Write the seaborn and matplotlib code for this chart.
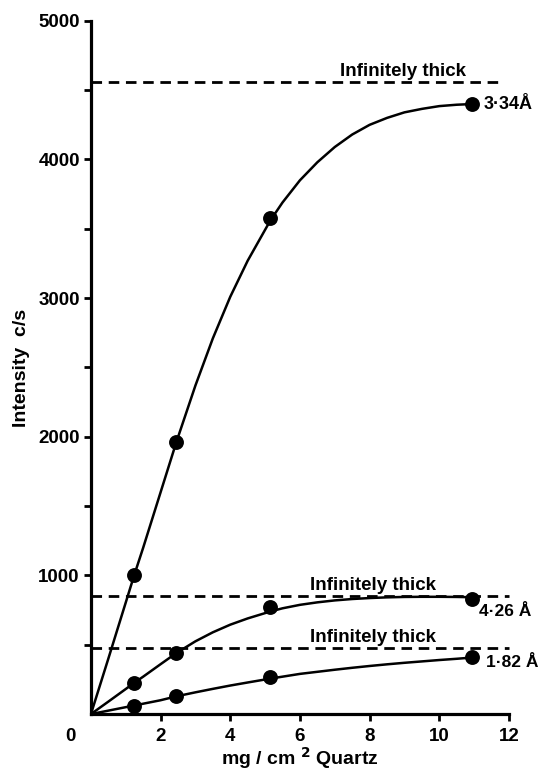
import matplotlib
matplotlib.use("Agg")
import matplotlib.pyplot as plt
import matplotlib.transforms as mtransforms
import seaborn as sns
import pandas as pd

# ---- data ----
point_x = [1.24, 2.45, 5.15, 10.95]
pts_334 = [1000, 1960, 3580, 4400]
pts_426 = [225, 440, 775, 830]
pts_182 = [60, 130, 265, 410]

curve_x = [0, 0.5, 1.0, 1.24, 1.5, 2.0, 2.45, 3.0, 3.5, 4.0, 4.5, 5.15, 5.5, 6.0,
           6.5, 7.0, 7.5, 8.0, 8.5, 9.0, 9.5, 10.0, 10.5, 10.95]
curve_334 = [0, 400, 805, 1000, 1200, 1600, 1960, 2370, 2710, 3010, 3270, 3560, 3690,
             3850, 3980, 4090, 4180, 4250, 4300, 4340, 4365, 4385, 4395, 4400]
curve_426 = [0, 90, 181, 225, 270, 360, 440, 525, 590, 645, 690, 740, 763, 788, 806,
             820, 830, 837, 842, 845, 846, 846, 845, 843]
curve_182 = [0, 25, 50, 62, 75, 100, 128, 157, 182, 206, 228, 256, 270, 290, 305, 320,
             334, 347, 359, 370, 380, 390, 399, 408]

inf_thick = [4560, 850, 475]
inf_end = [11.7, 12.0, 12.0]
inf_label_x = [8.95, 8.1, 8.1]
series_labels = ["3\u00b734\u00c5", "4\u00b726 \u00c5", "1\u00b782 \u00c5"]
x_ticks = [2, 4, 6, 8, 10, 12]
y_major = [1000, 2000, 3000, 4000, 5000]
y_minor = [500, 1500, 2500, 3500, 4500]

sns.set_theme(style="ticks")
plt.rcParams["font.family"] = ["Liberation Sans", "DejaVu Sans"]
plt.rcParams["font.weight"] = "bold"
plt.rcParams["axes.labelweight"] = "bold"
plt.rcParams["mathtext.default"] = "bf"
for key in ["text.color", "axes.labelcolor", "xtick.color", "ytick.color",
            "axes.edgecolor"]:
    plt.rcParams[key] = "black"

fig = plt.figure(figsize=(5.38, 7.72), dpi=100)
ax = fig.add_axes([0.169, 0.075, 0.777, 0.898])

n = len(curve_x)
curves = pd.DataFrame({
    "x": curve_x * 3,
    "y": curve_334 + curve_426 + curve_182,
    "s": ["3.34"] * n + ["4.26"] * n + ["1.82"] * n,
})
points = pd.DataFrame({
    "x": point_x * 3,
    "y": pts_334 + pts_426 + pts_182,
    "s": ["3.34"] * 4 + ["4.26"] * 4 + ["1.82"] * 4,
})

sns.lineplot(data=curves, x="x", y="y", units="s", estimator=None, color="black",
             lw=1.8, ax=ax, sort=False)
sns.scatterplot(data=points, x="x", y="y", color="black", s=115, edgecolor="black",
                linewidth=0, ax=ax, zorder=5)

for level, xe, lx in zip(inf_thick, inf_end, inf_label_x):
    ax.plot([0, xe], [level, level], color="black", lw=2.0, dashes=(3.8, 2.4),
            clip_on=False)
    ax.text(lx, level + 45, "Infinitely thick", ha="center", va="baseline",
            fontsize=13.5, fontweight="bold", color="black")

# series labels
ax.annotate(series_labels[0], xy=(point_x[3], pts_334[3]), xytext=(8, 0),
            textcoords="offset points", ha="left", va="center", fontsize=13,
            fontweight="bold", annotation_clip=False, color="black")
ax.annotate(series_labels[1], xy=(point_x[3], pts_426[3]), xytext=(5, -9),
            textcoords="offset points", ha="left", va="center", fontsize=12.5,
            fontweight="bold", annotation_clip=False, color="black")
ax.annotate(series_labels[2], xy=(point_x[3], pts_182[3]), xytext=(10, -4),
            textcoords="offset points", ha="left", va="center", fontsize=12.5,
            fontweight="bold", annotation_clip=False, color="black")

ax.set_xlim(0, 12)
ax.set_ylim(0, 5000)
ax.set_xticks(x_ticks)
ax.set_xticklabels([str(t) for t in x_ticks], fontsize=13.5, fontweight="bold")
ax.set_yticks(y_major)
ax.set_yticklabels([str(t) for t in y_major], fontsize=13.5, fontweight="bold")
ax.set_yticks(y_minor, minor=True)
ax.tick_params(axis="both", which="both", direction="out", length=5, width=2,
               color="black", labelcolor="black", pad=3)
ax.tick_params(axis="x", pad=5)

# origin label
trans = mtransforms.offset_copy(ax.transData, fig=fig, x=-15, y=-10, units="points")
ax.text(0, 0, "0", transform=trans, ha="center", va="top", fontsize=13.5,
        fontweight="bold", color="black")

ax.set_xlabel("mg / cm $^{2}$ Quartz", fontsize=14, fontweight="bold", labelpad=0,
              color="black")
ax.set_ylabel("Intensity  c/s", fontsize=14, fontweight="bold", labelpad=6,
              color="black")

sns.despine(ax=ax)
for side in ["left", "bottom"]:
    ax.spines[side].set_linewidth(2.3)
    ax.spines[side].set_color("black")
ax.grid(False)

fig.savefig("out.png", dpi=100, facecolor="white")
